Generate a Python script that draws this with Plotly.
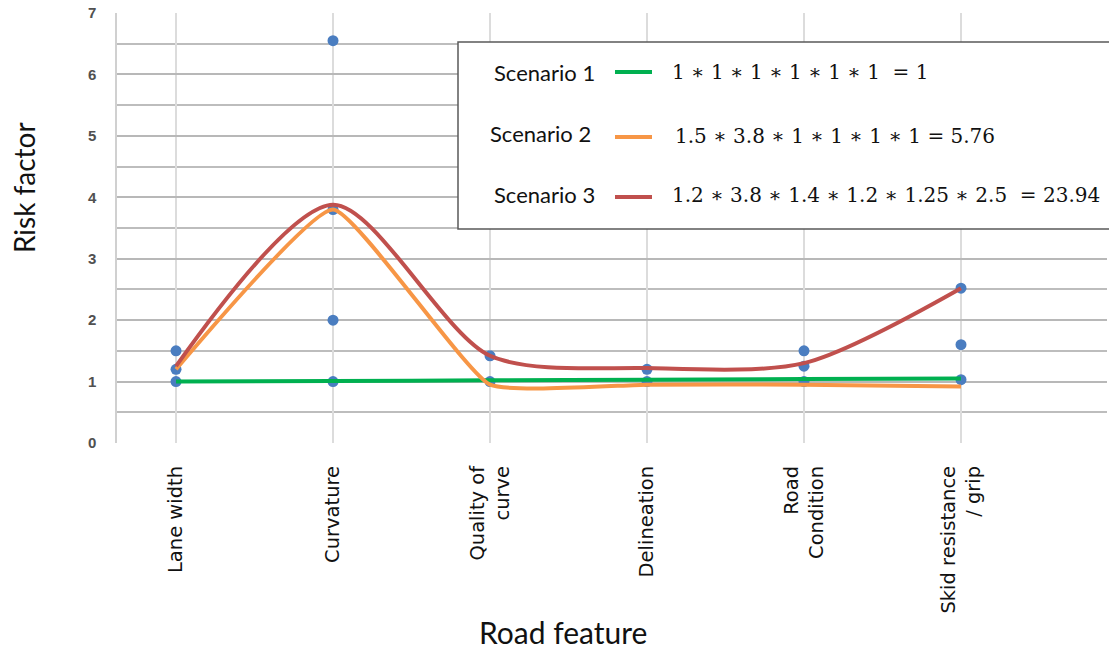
import plotly.graph_objects as go

# ---------------- data ----------------
categories = ["Lane width", "Curvature", "Quality of<br>curve", "Delineation",
              "Road<br>Condition", "Skid resistance<br>/ grip"]
x_pos = [0, 1, 2, 3, 4, 5]

# risk factor options shown as blue dots for each road feature
lane_width_opts = [1.0, 1.2, 1.5]
curvature_opts = [1.0, 2.0, 3.8, 6.55]
quality_opts = [1.0, 1.42]
delineation_opts = [1.0, 1.2]
road_condition_opts = [1.0, 1.25, 1.5]
skid_opts = [1.03, 1.6, 2.52]
option_lists = [lane_width_opts, curvature_opts, quality_opts,
                delineation_opts, road_condition_opts, skid_opts]

scenario1 = [1.0, 1.01, 1.02, 1.03, 1.04, 1.05]
scenario2 = [1.2, 3.8, 0.95, 0.95, 0.95, 0.92]
scenario3 = [1.25, 3.88, 1.42, 1.22, 1.3, 2.52]

scenario_names = ["Scenario 1", "Scenario 2", "Scenario 3"]
scenario_formulas = ["1 ∗ 1 ∗ 1 ∗ 1 ∗ 1 ∗ 1  = 1",
                     "1.5 ∗ 3.8 ∗ 1 ∗ 1 ∗ 1 ∗ 1 = 5.76",
                     "1.2 ∗ 3.8 ∗ 1.4 ∗ 1.2 ∗ 1.25 ∗ 2.5  = 23.94"]
scenario_colors = ["#00B050", "#F79646", "#C0504D"]
scenario_smoothing = [1.0, 0.4, 0.8]

y_ticks = [0, 1, 2, 3, 4, 5, 6, 7]

# ---------------- figure ----------------
fig = go.Figure()

dot_x, dot_y = [], []
for xp, opts in zip(x_pos, option_lists):
    for v in opts:
        dot_x.append(xp)
        dot_y.append(v)

fig.add_trace(go.Scatter(x=dot_x, y=dot_y, mode="markers",
                         marker=dict(color="#4A7DC0", size=11),
                         showlegend=False, hoverinfo="y"))

for name, vals, col, sm in zip(scenario_names, [scenario1, scenario2, scenario3],
                               scenario_colors, scenario_smoothing):
    fig.add_trace(go.Scatter(x=x_pos, y=vals, mode="lines", name=name,
                             line=dict(color=col, width=4, shape="spline", smoothing=sm),
                             showlegend=False))

# plot area (page pixels) x 117..1107, y 13..443
W, H = 1109, 650
L, R, T, B = 117, 1107, 13, 443
def px(x):
    return (x - L) / (R - L)
def py(y):
    return (B - y) / (B - T)

shapes = [dict(type="rect", xref="paper", yref="paper",
               x0=px(458), x1=px(1125), y0=py(229), y1=py(42),
               line=dict(color="#595959", width=1.5), fillcolor="white", layer="above")]
annotations = []
label_pos = [(597, 72), (593, 133), (597, 195)]
swatch_y = [72, 137, 197]
formula_pos = [(670, 72), (673, 136), (670, 195)]
for i in range(3):
    annotations.append(dict(xref="paper", yref="paper", x=px(label_pos[i][0]), y=py(label_pos[i][1]),
                            text=scenario_names[i], showarrow=False, xanchor="right", yanchor="middle",
                            font=dict(family="Lato", size=22, color="#111111")))
    shapes.append(dict(type="line", xref="paper", yref="paper",
                       x0=px(615), x1=px(652), y0=py(swatch_y[i]), y1=py(swatch_y[i]),
                       line=dict(color=scenario_colors[i], width=4), layer="above"))
    annotations.append(dict(xref="paper", yref="paper", x=px(formula_pos[i][0]), y=py(formula_pos[i][1]),
                            text=scenario_formulas[i], showarrow=False, xanchor="left", yanchor="middle",
                            font=dict(family="DejaVu Serif", size=20, color="#111111")))

annotations.append(dict(xref="paper", yref="paper", x=px(24), y=py(188), text="Risk factor",
                        textangle=-90, showarrow=False, xanchor="center", yanchor="middle",
                        font=dict(family="Lato", size=28, color="#111111")))
annotations.append(dict(xref="paper", yref="paper", x=px(563), y=py(632), text="Road feature",
                        showarrow=False, xanchor="center", yanchor="middle",
                        font=dict(family="Lato", size=30, color="#111111")))

fig.update_layout(
    width=W, height=H,
    margin=dict(l=L, r=W - R, t=T, b=H - B),
    paper_bgcolor="white", plot_bgcolor="white",
    shapes=shapes, annotations=annotations,
    xaxis=dict(range=[-0.376, 5.93], tickmode="array", tickvals=x_pos, ticktext=categories,
               tickangle=-90, showgrid=True, gridcolor="#dcdcdc", gridwidth=1.5,
               zeroline=False, showline=False, ticks="", ticklabelstandoff=18,
               automargin=False,
               tickfont=dict(family="DejaVu Sans", size=19.5, color="#111111")),
    yaxis=dict(range=[0, 7], tickmode="array", tickvals=y_ticks,
               showgrid=True, gridcolor="#b8b8b8", gridwidth=1.5,
               minor=dict(dtick=0.5, showgrid=True, gridcolor="#bdbdbd", gridwidth=1.5),
               zeroline=False, showline=True, linecolor="#d0d0d0", linewidth=1.5,
               ticks="", ticklabelstandoff=16, automargin=False, ticklabeloverflow="allow",
               tickfont=dict(family="Liberation Sans", size=15, color="#505050", weight="bold")),
)

fig.write_html("out.html", config={"displayModeBar": False},
               post_script="document.body.style.margin='0px';"
                           "document.documentElement.style.overflow='hidden';")
